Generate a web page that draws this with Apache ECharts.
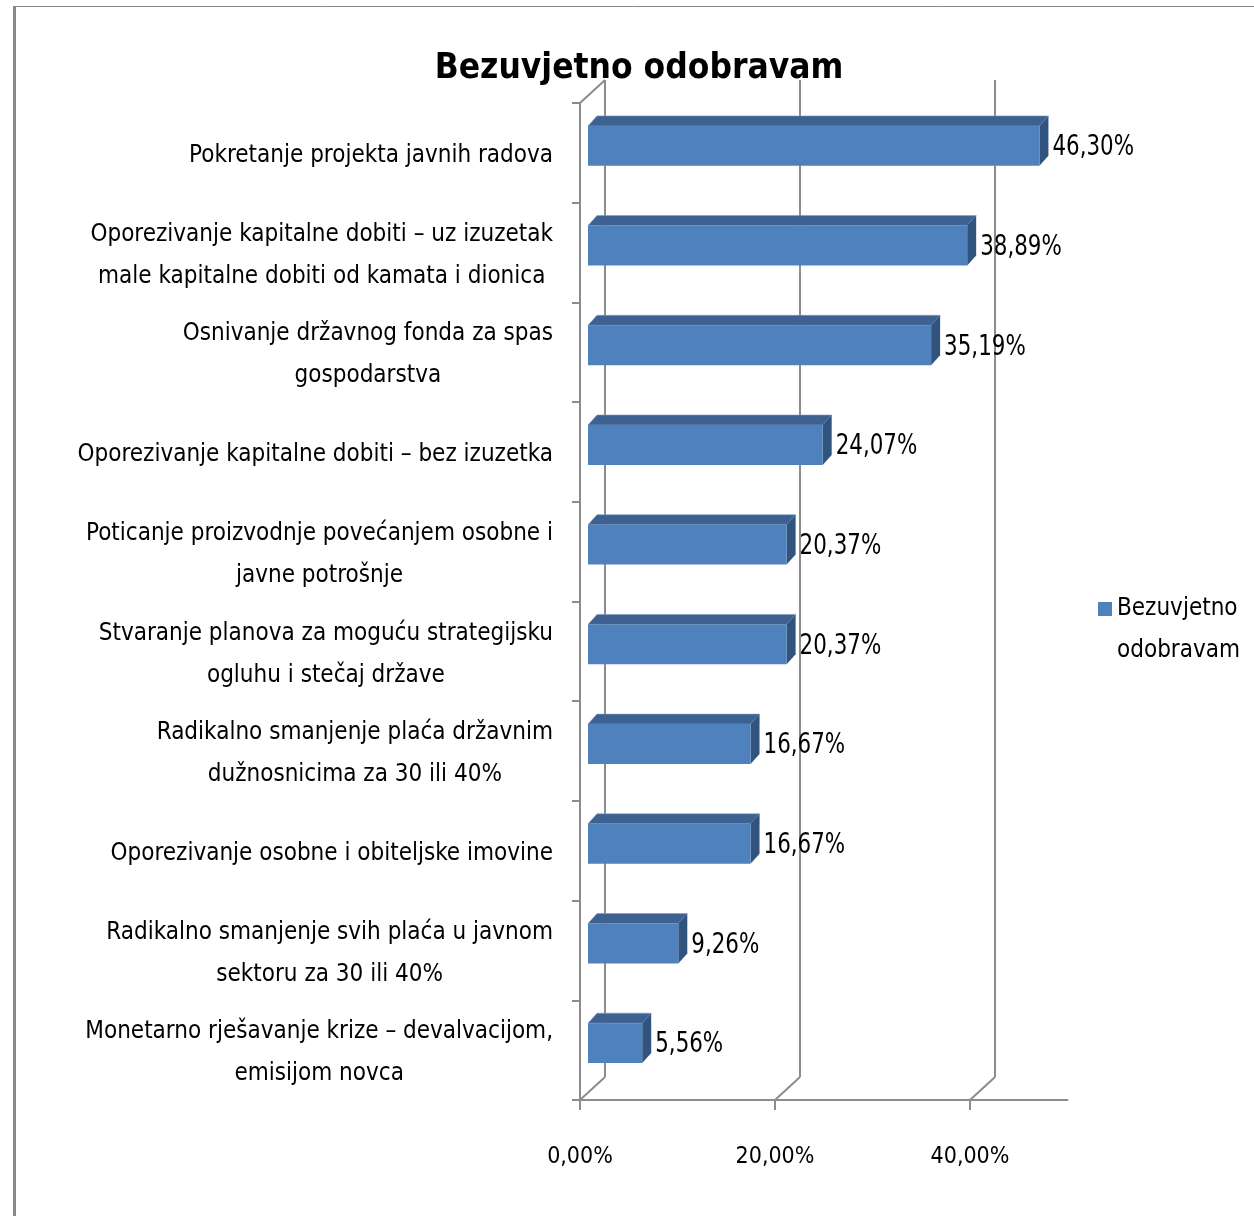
<!DOCTYPE html>
<html>
<head>
<meta charset="utf-8">
<script src="https://cdn.jsdelivr.net/npm/echarts@6/dist/echarts.min.js"></script>
<style>
  html, body { margin: 0; padding: 0; background: #fff; }
  #chart { width: 1254px; height: 1216px; }
</style>
</head>
<body>
<div id="chart"></div>
<script>
const categories = [
    'Pokretanje projekta javnih radova',
    'Oporezivanje kapitalne dobiti – uz izuzetak\nmale kapitalne dobiti od kamata i dionica',
    'Osnivanje državnog fonda za spas\ngospodarstva',
    'Oporezivanje kapitalne dobiti – bez izuzetka',
    'Poticanje proizvodnje povećanjem osobne i\njavne potrošnje',
    'Stvaranje planova za moguću strategijsku\nogluhu i stečaj države',
    'Radikalno smanjenje plaća državnim\ndužnosnicima za 30 ili 40%',
    'Oporezivanje osobne i obiteljske imovine',
    'Radikalno smanjenje svih plaća u javnom\nsektoru za 30 ili 40%',
    'Monetarno rješavanje krize – devalvacijom,\nemisijom novca'
];
const values = [46.30, 38.89, 35.19, 24.07, 20.37, 20.37, 16.67, 16.67, 9.26, 5.56];
const xTicks = [0, 20, 40];
const seriesName = 'Bezuvjetno odobravam';

const FONT = '"Liberation Sans Narrow", "DejaVu Sans Condensed", sans-serif';
const AXIS_GREY = '#8c8c8c';
const pct = v => v.toFixed(2).replace('.', ',') + '%';

// depth offsets of the fake 3D look
const WALL_DX = 25, WALL_DY = -23;
const FACE_DX = 8, FACE_DY = -7;
const BAR_DX = 9, BAR_DY = -10;

const chart = echarts.init(document.getElementById('chart'));

chart.setOption({
    animation: false,
    backgroundColor: '#fff',
    title: {
        text: seriesName,
        left: 634,
        top: 46,
        textAlign: 'center',
        textStyle: { fontFamily: FONT, fontSize: 35, fontWeight: 'bold', color: '#000' }
    },
    legend: {
        data: [seriesName],
        left: 1098,
        top: 588,
        padding: 0,
        itemWidth: 14,
        itemHeight: 56,
        icon: 'path://M0,0L14,0L14,14L0,14Z M0,56L0,56',
        formatter: () => 'Bezuvjetno\nodobravam',
        textStyle: { fontFamily: FONT, fontSize: 24, lineHeight: 42, color: '#000' }
    },
    graphic: [
        { type: 'line', shape: { x1: 14.5, y1: 6, x2: 14.5, y2: 1216 }, style: { stroke: '#888', lineWidth: 3 } },
        { type: 'line', shape: { x1: 13, y1: 6.5, x2: 1254, y2: 6.5 }, style: { stroke: '#888', lineWidth: 1 } }
    ],
    grid: { left: 580, top: 103, width: 487.5, height: 997 },
    xAxis: {
        type: 'value',
        min: 0,
        max: 50,
        interval: 20,
        splitLine: { show: false },
        axisLine: { show: true, lineStyle: { color: AXIS_GREY, width: 2 } },
        axisTick: { show: true, customValues: xTicks, length: 10, lineStyle: { color: AXIS_GREY, width: 2 } },
        axisLabel: {
            customValues: xTicks,
            formatter: pct,
            margin: 46,
            fontFamily: FONT,
            fontSize: 23,
            color: '#000'
        }
    },
    yAxis: {
        type: 'category',
        inverse: true,
        data: categories,
        axisLine: { show: true, lineStyle: { color: AXIS_GREY, width: 2 } },
        axisTick: { show: true, length: 8, lineStyle: { color: AXIS_GREY, width: 2 } },
        axisLabel: {
            margin: 27,
            padding: [6, 0, 0, 0],
            fontFamily: FONT,
            fontSize: 24,
            color: '#000',
            formatter: v => v.split('\n').map(l => '{c|' + l + '}').join('\n'),
            rich: { c: { align: 'center', fontFamily: FONT, fontSize: 24, lineHeight: 42, color: '#000' } }
        }
    },
    series: [
        {
            // back wall grid lines and floor edges
            type: 'custom',
            z: 1,
            silent: true,
            data: xTicks.map(v => [v]),
            encode: { x: 0 },
            renderItem: (params, api) => {
                const cs = params.coordSys;
                const x = api.coord([api.value(0), 0])[0];
                const top = cs.y, bottom = cs.y + cs.height;
                const style = { stroke: AXIS_GREY, lineWidth: 2 };
                const children = [
                    { type: 'line', shape: { x1: x + WALL_DX, y1: top + WALL_DY, x2: x + WALL_DX, y2: bottom + WALL_DY }, style },
                    { type: 'line', shape: { x1: x, y1: bottom, x2: x + WALL_DX, y2: bottom + WALL_DY }, style }
                ];
                if (api.value(0) === 0) {
                    children.push({ type: 'line', shape: { x1: x, y1: top, x2: x + WALL_DX, y2: top + WALL_DY }, style });
                }
                return { type: 'group', children };
            }
        },
        {
            name: seriesName,
            type: 'custom',
            z: 2,
            itemStyle: { color: '#4f81bd' },
            data: values.map((v, i) => [v, i]),
            encode: { x: 0, y: 1 },
            renderItem: (params, api) => {
                const v = api.value(0), i = api.value(1);
                const p0 = api.coord([0, i]);
                const p1 = api.coord([v, i]);
                const h = api.size([0, 1])[1] * 0.4;
                const x0 = p0[0] + FACE_DX, x1 = p1[0] + FACE_DX;
                const yc = p0[1] + FACE_DY;
                const top = yc - h / 2;
                return {
                    type: 'group',
                    children: [
                        {
                            type: 'polygon',
                            shape: { points: [[x0, top], [x1, top], [x1 + BAR_DX, top + BAR_DY], [x0 + BAR_DX, top + BAR_DY]] },
                            style: { fill: '#3d6190', stroke: '#7d9cc6', lineWidth: 0.6 }
                        },
                        {
                            type: 'polygon',
                            shape: { points: [[x1, top], [x1 + BAR_DX, top + BAR_DY], [x1 + BAR_DX, top + h + BAR_DY], [x1, top + h]] },
                            style: { fill: '#31547f' }
                        },
                        {
                            type: 'rect',
                            shape: { x: x0, y: top, width: x1 - x0, height: h },
                            style: { fill: '#4f81bd' }
                        },
                        {
                            type: 'text',
                            x: x1 + 13,
                            y: yc + 2,
                            scaleX: 0.85,
                            style: {
                                text: pct(v),
                                fontFamily: FONT,
                                fontSize: 28,
                                fill: '#000',
                                align: 'left',
                                verticalAlign: 'middle'
                            }
                        }
                    ]
                };
            }
        }
    ]
});

window.addEventListener('resize', chart.resize);
</script>
</body>
</html>
